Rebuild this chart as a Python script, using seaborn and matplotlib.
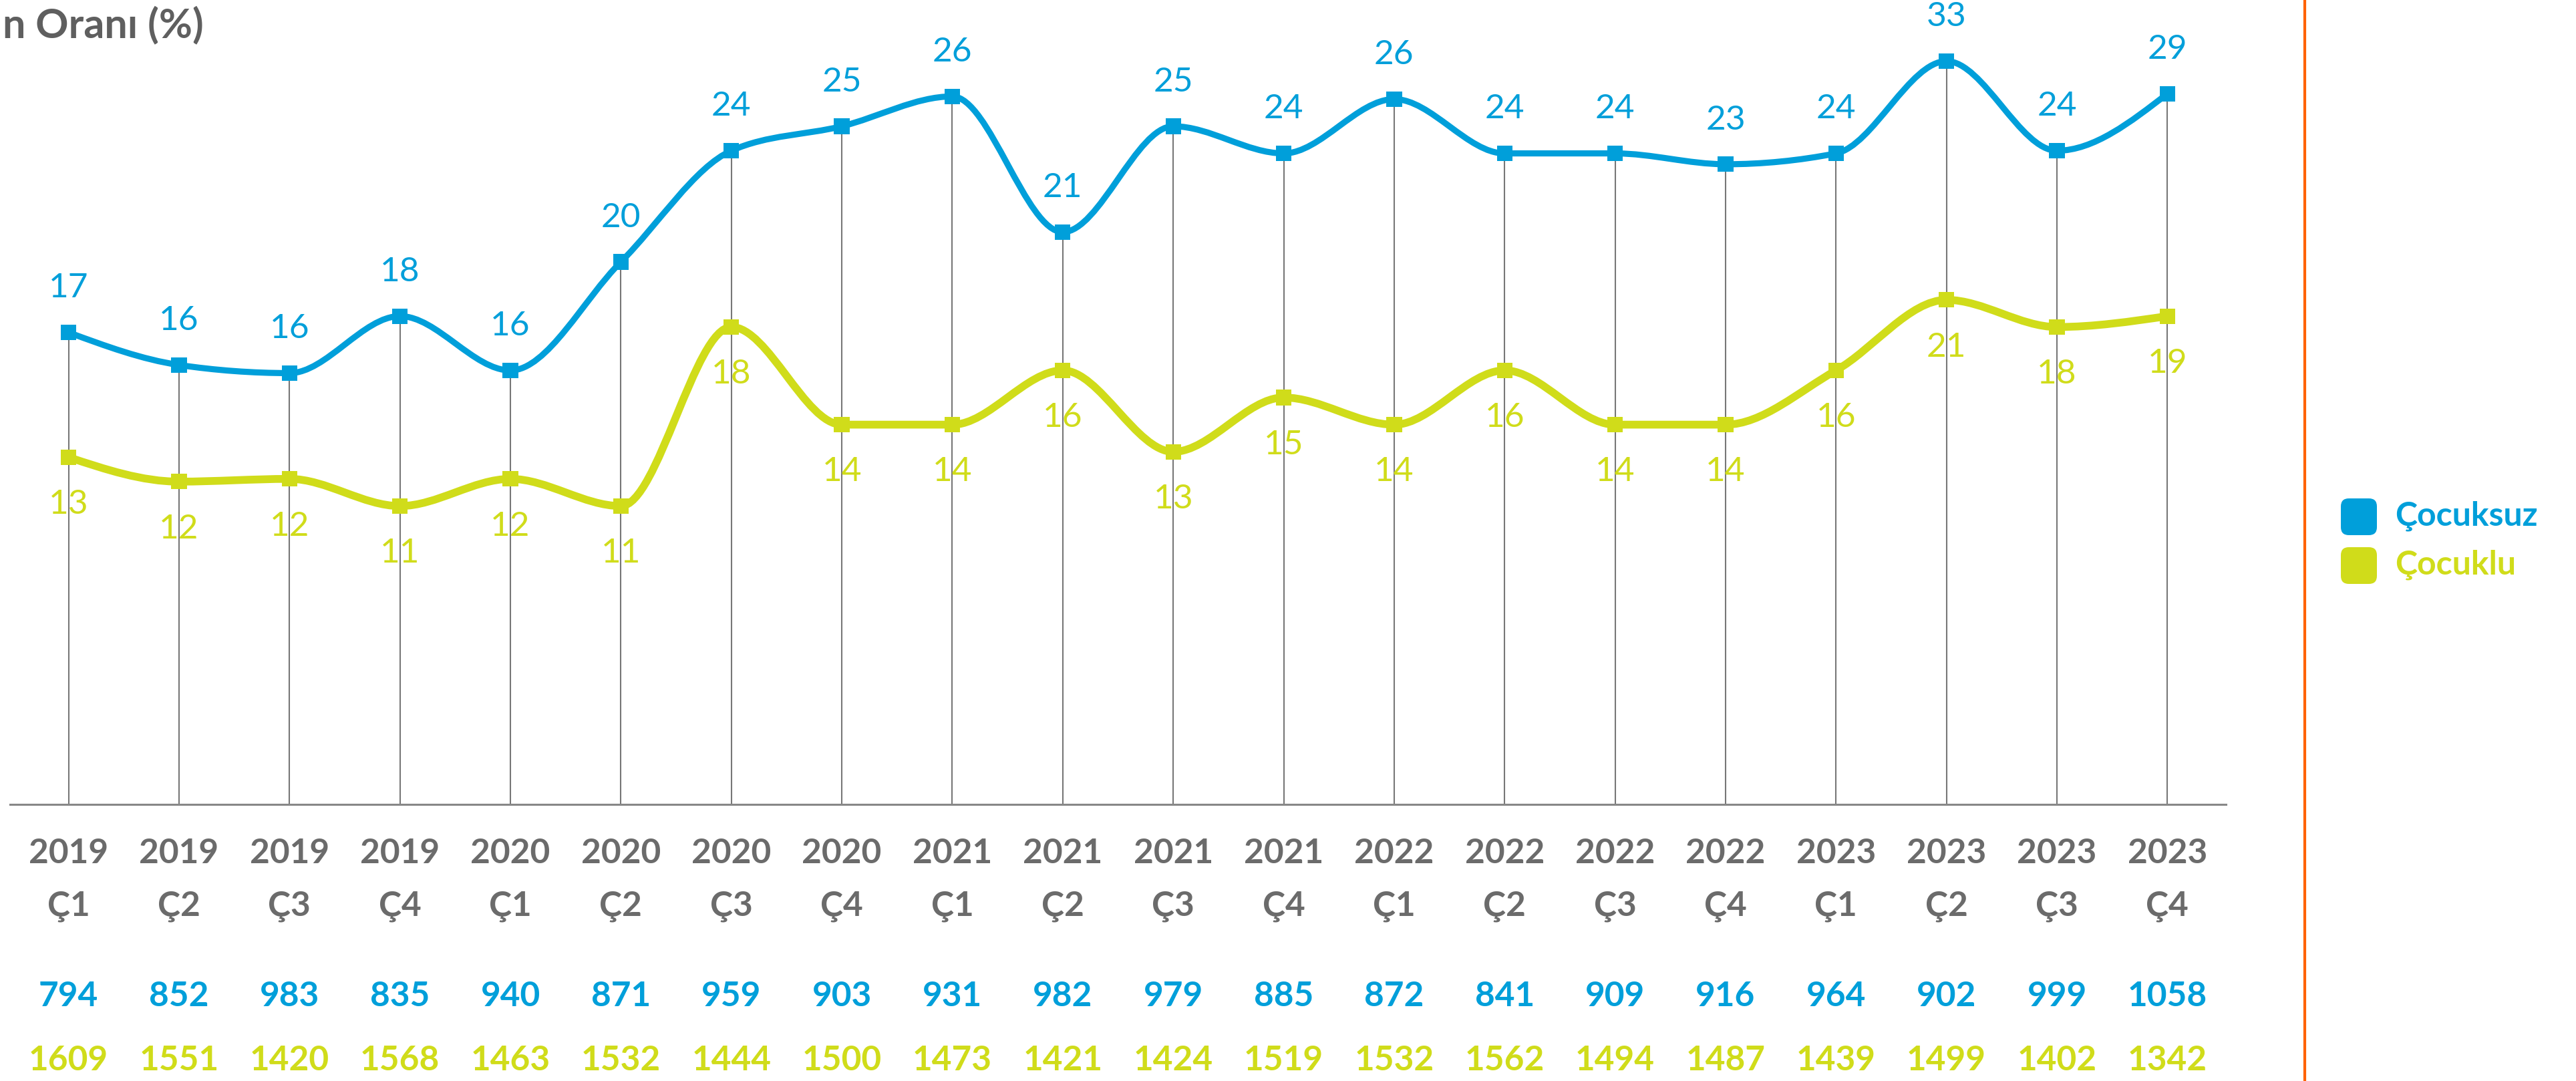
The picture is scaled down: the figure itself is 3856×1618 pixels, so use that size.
import numpy as np
import pandas as pd
import matplotlib
matplotlib.use("Agg")
import matplotlib.pyplot as plt
import seaborn as sns
from matplotlib.path import Path
from matplotlib.patches import PathPatch, FancyBboxPatch
from matplotlib.lines import Line2D
from matplotlib.transforms import IdentityTransform

years = ["2019"] * 4 + ["2020"] * 4 + ["2021"] * 4 + ["2022"] * 4 + ["2023"] * 4
quarters = ["Ç1", "Ç2", "Ç3", "Ç4"] * 5

# line heights as drawn in the picture
cocuksuz = [17.4, 16.2, 15.9, 18.0, 16.0, 20.0, 24.1, 25.0, 26.1, 21.1,
            25.0, 24.0, 26.0, 24.0, 24.0, 23.6, 24.0, 27.4, 24.1, 26.2]
cocuklu = [12.8, 11.9, 12.0, 11.0, 12.0, 11.0, 17.6, 14.0, 14.0, 16.0,
           13.0, 15.0, 14.0, 16.0, 14.0, 14.0, 16.0, 18.6, 17.6, 18.0]

# printed values
cocuksuzLabels = [17, 16, 16, 18, 16, 20, 24, 25, 26, 21, 25, 24, 26, 24, 24, 23, 24, 33, 24, 29]
cocukluLabels = [13, 12, 12, 11, 12, 11, 18, 14, 14, 16, 13, 15, 14, 16, 14, 14, 16, 21, 18, 19]

cocuksuzN = [794, 852, 983, 835, 940, 871, 959, 903, 931, 982,
             979, 885, 872, 841, 909, 916, 964, 902, 999, 1058]
cocukluN = [1609, 1551, 1420, 1568, 1463, 1532, 1444, 1500, 1473, 1421,
            1424, 1519, 1532, 1562, 1494, 1487, 1439, 1499, 1402, 1342]

blue = "#009fda"
lime = "#d0dc1a"
grey = "#6b6b6b"
W, H, DPI = 3856, 1618, 200


def monotoneSlopes(y):
    y = np.asarray(y, dtype=float)
    s = np.diff(y)
    m = np.zeros(len(y))
    for i in range(1, len(y) - 1):
        s0, s1 = s[i - 1], s[i]
        p = (s0 + s1) / 2
        m[i] = (np.sign(s0) + np.sign(s1)) * min(abs(s0), abs(s1), 0.5 * abs(p))
    m[0] = (3 * s[0] - m[1]) / 2
    m[-1] = (3 * s[-1] - m[-2]) / 2
    return m


def smoothPath(y):
    m = monotoneSlopes(y)
    verts = [(0, y[0])]
    codes = [Path.MOVETO]
    for i in range(len(y) - 1):
        verts += [(i + 1 / 3, y[i] + m[i] / 3),
                  (i + 2 / 3, y[i + 1] - m[i + 1] / 3),
                  (i + 1, y[i + 1])]
        codes += [Path.CURVE4] * 3
    return Path(verts, codes)


sns.set_theme(style="white")
plt.rcParams['font.family'] = ['Lato', 'DejaVu Sans']

fig = plt.figure(figsize=(W / DPI, H / DPI), dpi=DPI)
ax = fig.add_axes([15 / W, 1 - 1204 / H, 3317 / W, 1177.4 / H])
x = np.arange(len(years))

ax.vlines(x, 0, np.maximum(cocuksuz, cocuklu), color="#777777", linewidth=0.75, zorder=1)
ax.add_patch(PathPatch(smoothPath(cocuklu), fill=False, edgecolor=lime,
                       linewidth=4.2, zorder=2))
ax.add_patch(PathPatch(smoothPath(cocuksuz), fill=False, edgecolor=blue,
                       linewidth=3.3, zorder=2))

df = pd.DataFrame({"x": np.concatenate([x, x]),
                   "y": cocuksuz + cocuklu,
                   "grup": ["Çocuksuz"] * len(x) + ["Çocuklu"] * len(x)})
sns.scatterplot(data=df, x="x", y="y", hue="grup",
                palette={"Çocuksuz": blue, "Çocuklu": lime},
                marker="s", s=70, linewidth=0, legend=False, ax=ax, zorder=3)

for i in x:
    ax.annotate(str(cocuksuzLabels[i]), (i, cocuksuz[i]), xytext=(0, 23.8),
                textcoords="offset points", ha="center", va="center",
                fontsize=18.5, color=blue, annotation_clip=False)
    ax.annotate(str(cocukluLabels[i]), (i, cocuklu[i]), xytext=(0, -25.5),
                textcoords="offset points", ha="center", va="center",
                fontsize=18.5, color=lime, annotation_clip=False)

tr = ax.get_xaxis_transform()
for i in x:
    ax.text(i, -73 / 1177.4, years[i], transform=tr, ha="center", va="center",
            fontsize=18.5, color=grey, fontweight="bold")
    ax.text(i, -153 / 1177.4, quarters[i], transform=tr, ha="center", va="center",
            fontsize=18.5, color=grey, fontweight="bold")
    ax.text(i, -288 / 1177.4, str(cocuksuzN[i]), transform=tr, ha="center", va="center",
            fontsize=18.5, color=blue, fontweight="bold")
    ax.text(i, -384 / 1177.4, str(cocukluN[i]), transform=tr, ha="center", va="center",
            fontsize=18.5, color=lime, fontweight="bold")

ax.set_xlim(-0.53, 19.53)
ax.set_ylim(0, 29)
ax.set_xticks([])
ax.set_yticks([])
for side in ["top", "left", "right"]:
    ax.spines[side].set_visible(False)
ax.spines["bottom"].set_color("#888888")
ax.spines["bottom"].set_linewidth(1.1)
ax.set_xlabel("")
ax.set_ylabel("")

# title (only its tail is visible in the original)
fig.text(4 / W, 1 - 37 / H, "n Oranı (%)", ha="left", va="center",
         fontsize=22, color="#5f5f5f", fontweight="bold")

# orange divider
fig.add_artist(Line2D([3450 / W, 3450 / W], [0, 1], color="#ff6200", linewidth=1.5))

# legend
for name, col, top in [("Çocuksuz", blue, 746), ("Çocuklu", lime, 819)]:
    fig.add_artist(FancyBboxPatch((3504, H - top - 55), 54, 55,
                                  boxstyle="round,pad=0,rounding_size=12",
                                  facecolor=col, edgecolor="none",
                                  transform=IdentityTransform()))
    fig.text(3585 / W, 1 - (top + 26) / H, name, ha="left", va="center",
             fontsize=18, color=col, fontweight="bold")

fig.savefig("out.png", dpi=DPI)
